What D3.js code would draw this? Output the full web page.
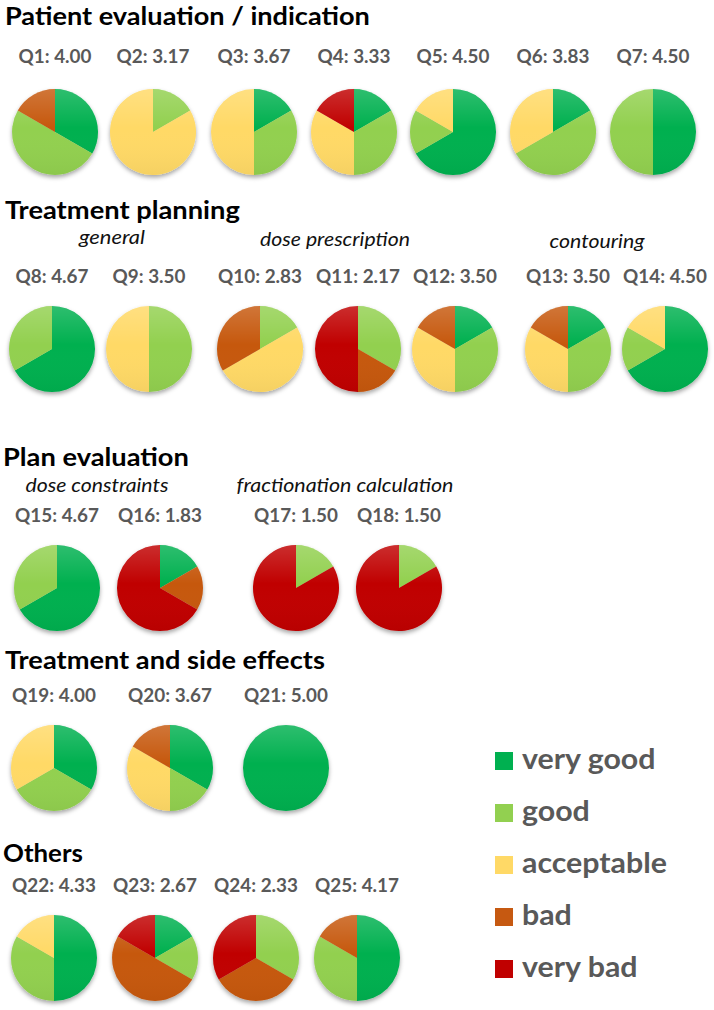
<!DOCTYPE html>
<html><head><meta charset="utf-8">
<script src="https://cdn.jsdelivr.net/npm/d3@7"></script>
<style>html,body{margin:0;padding:0;background:#fff}svg{display:block}text{font-family:Lato,"Open Sans",sans-serif}</style>
</head><body>
<svg id="chart" width="714" height="1010"></svg>
<script>
// ---------- data ----------
const categories = ["very good", "good", "acceptable", "bad", "very bad"];
const questions = ["Q1","Q2","Q3","Q4","Q5","Q6","Q7","Q8","Q9","Q10","Q11","Q12","Q13",
  "Q14","Q15","Q16","Q17","Q18","Q19","Q20","Q21","Q22","Q23","Q24","Q25"];
const means = ["4.00","3.17","3.67","3.33","4.50","3.83","4.50","4.67","3.50","2.83","2.17","3.50","3.50",
  "4.50","4.67","1.83","1.50","1.50","4.00","3.67","5.00","4.33","2.67","2.33","4.17"];
// answers per question: [very good, good, acceptable, bad, very bad]
const counts = [
  [2,3,0,1,0],[0,1,5,0,0],[1,2,3,0,0],[1,2,2,0,1],[4,1,1,0,0],[1,3,2,0,0],[3,3,0,0,0],
  [4,2,0,0,0],[0,3,3,0,0],[0,1,3,2,0],[0,2,0,1,3],[1,2,2,1,0],[1,2,2,1,0],[4,1,1,0,0],
  [4,2,0,0,0],[1,0,0,1,4],[0,1,0,0,5],[0,1,0,0,5],
  [2,2,2,0,0],[2,1,2,1,0],[6,0,0,0,0],
  [3,2,1,0,0],[1,1,0,3,1],[0,2,0,2,2],[3,2,0,1,0]
];
const sections = ["Patient evaluation / indication","Treatment planning","Plan evaluation","Treatment and side effects","Others"];
const subtitles = ["general","dose prescription","contouring","dose constraints","fractionation calculation"];

// ---------- layout ----------
const colors = ["#00b050","#92d050","#ffd966","#c65911","#c00000"];
const R = 43;
const sectionLayout = [
  {x:5, y:25, w:365}, {x:5, y:219, w:235}, {x:3, y:466, w:186}, {x:5, y:669, w:320}, {x:3, y:862, w:80}
];
const subLayout = [
  {cx:112, y:244, w:66}, {cx:335, y:246, w:150}, {cx:597, y:248, w:95},
  {cx:97, y:492, w:143}, {cx:345, y:492, w:217}
];
// per question: label baseline y and pie centre y by row, pie centre x per question
const rowY = [{l:63,p:132},{l:283,p:349},{l:522,p:588},{l:702,p:768},{l:892,p:958}];
const qx = [55,153,254,354,453,553,653, 52,149,260,358,455,568,665, 57,160,296,399, 54,170,286, 54,155,256,357];
const qrow = [0,0,0,0,0,0,0, 1,1,1,1,1,1,1, 2,2,2,2, 3,3,3, 4,4,4,4];

const svg = d3.select("#chart");
const defs = svg.append("defs");
const f = defs.append("filter").attr("id","shadow").attr("x","-20%").attr("y","-20%").attr("width","140%").attr("height","150%");
f.append("feDropShadow").attr("dx",0).attr("dy",2.5).attr("stdDeviation",2).attr("flood-color","#000").attr("flood-opacity",0.35);
const g1 = defs.append("linearGradient").attr("id","shine").attr("x1",0).attr("y1",0).attr("x2",0).attr("y2",1);
g1.append("stop").attr("offset","0%").attr("stop-color","#fff").attr("stop-opacity",0.18);
g1.append("stop").attr("offset","45%").attr("stop-color","#fff").attr("stop-opacity",0);
g1.append("stop").attr("offset","100%").attr("stop-color","#000").attr("stop-opacity",0.04);

// place text at (x,y) and scale horizontally to reach the target width
function squeezed(parent, str, x, y, fs, target, anchor, attrs){
  const t = parent.append("text").attr("x",0).attr("y",0).attr("font-size",fs)
    .attr("text-anchor",anchor).text(str);
  Object.entries(attrs).forEach(([k,v])=>t.attr(k,v));
  const w = t.node().getComputedTextLength();
  const sx = target / w;
  t.attr("transform",`translate(${x},${y}) scale(${sx},1)`);
  return sx;
}

sections.forEach((s,i)=>{
  const L = sectionLayout[i];
  squeezed(svg, s, L.x, L.y, 24, L.w, "start", {"font-weight":"bold","fill":"#000"});
});
subtitles.forEach((s,i)=>{
  const L = subLayout[i];
  squeezed(svg, s, L.cx, L.y, 19, L.w, "middle", {"font-style":"italic","fill":"#111"});
});

const pie = d3.pie().sort(null).value(d=>d.v);
const arc = d3.arc().innerRadius(0).outerRadius(R);
// common horizontal scale for question labels, derived from "Q1: 4.00" width
const probe = svg.append("text").attr("font-size",18).attr("font-weight","bold").text("Q1: 4.00");
const labelSx = 73 / probe.node().getComputedTextLength();
probe.remove();

questions.forEach((q,i)=>{
  const cx = qx[i], ry = rowY[qrow[i]];
  svg.append("text").attr("x",0).attr("y",0).attr("text-anchor","middle")
    .attr("transform",`translate(${cx},${ry.l}) scale(${labelSx},1)`)
    .attr("font-size",18).attr("font-weight","bold").attr("fill","#595959")
    .text(q + ": " + means[i]);
  const g = svg.append("g").attr("transform",`translate(${cx},${ry.p})`);
  const gp = g.append("g").attr("filter","url(#shadow)");
  const data = counts[i].map((v,k)=>({v, k})).filter(d=>d.v>0);
  gp.selectAll("path").data(pie(data)).join("path")
    .attr("d",arc).attr("fill",d=>colors[d.data.k]);
  g.append("circle").attr("r",R).attr("fill","url(#shine)");
});

// legend
const legY = [761,813,865,917,969];
const leg = svg.append("g");
const lp = leg.append("text").attr("font-size",29).attr("font-weight","bold").text("acceptable");
const legSx = 145 / lp.node().getComputedTextLength();
lp.remove();
categories.forEach((c,k)=>{
  leg.append("rect").attr("x",495).attr("y",legY[k]-9).attr("width",18).attr("height",18).attr("fill",colors[k]);
  leg.append("text").attr("x",0).attr("y",0)
    .attr("transform",`translate(522,${legY[k]+8}) scale(${legSx},1)`)
    .attr("font-size",29).attr("font-weight","bold").attr("fill","#595959").text(c);
});
</script>
</body></html>
